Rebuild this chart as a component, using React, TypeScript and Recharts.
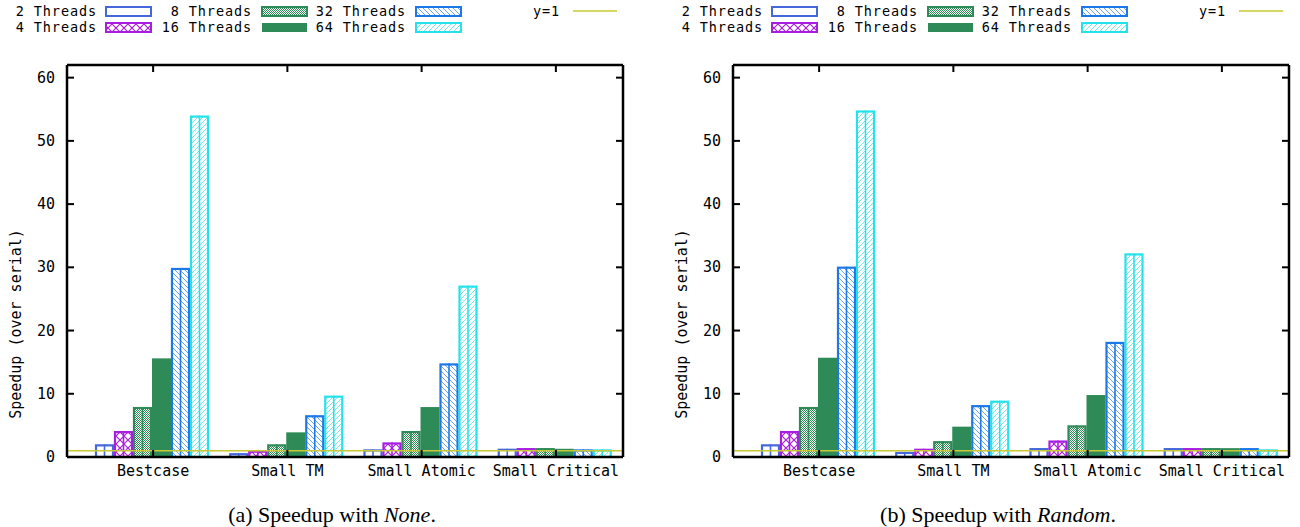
import React from 'react';
import { BarChart, Bar, XAxis, YAxis, ReferenceLine } from 'recharts';

const categories = ['Bestcase', 'Small TM', 'Small Atomic', 'Small Critical'];
const threadLabels = ['2 Threads', '4 Threads', '8 Threads', '16 Threads', '32 Threads', '64 Threads'];
const yTicks = [0, 10, 20, 30, 40, 50, 60];

// (a) None
const none2 = [2.0, 0.6, 1.2, 1.3];
const none4 = [4.1, 1.0, 2.3, 1.4];
const none8 = [7.9, 2.0, 4.1, 1.4];
const none16 = [15.6, 3.9, 7.9, 1.3];
const none32 = [29.9, 6.6, 14.8, 1.2];
const none64 = [54.0, 9.7, 27.1, 1.2];

// (b) Random
const random2 = [2.0, 0.8, 1.4, 1.4];
const random4 = [4.1, 1.3, 2.6, 1.4];
const random8 = [7.9, 2.5, 5.0, 1.4];
const random16 = [15.7, 4.8, 9.8, 1.4];
const random32 = [30.1, 8.2, 18.2, 1.4];
const random64 = [54.8, 8.9, 32.2, 1.2];

const seriesKeys = ['t2', 't4', 't8', 't16', 't32', 't64'];
const seriesColors = ['#4468dc', '#a81ee0', '#2e8b57', '#2e8b57', '#1c78e8', '#24e2ea'];
const seriesPatterns = ['none', 'cross', 'dots', 'solid', 'back', 'fwd'];
const refColor = '#c8c832';

const MONO = '"DejaVu Sans Mono", monospace';

const buildRows = (cols: number[][]) =>
    categories.map((name, i) => {
        const row: any = { name };
        seriesKeys.forEach((k, s) => { row[k] = cols[s][i]; });
        return row;
    });

const noneRows = buildRows([none2, none4, none8, none16, none32, none64]);
const randomRows = buildRows([random2, random4, random8, random16, random32, random64]);

const fillFor = (pattern: string, color: string) => {
    if (pattern === 'solid') return color;
    if (pattern === 'none') return '#ffffff';
    return `url(#pat-${pattern})`;
};

const PatternBar = (props: any) => {
    const { x, y, width, height, color, pattern } = props;
    if (!height || height <= 0) return null;
    if (pattern === 'solid') {
        return <rect x={x} y={y} width={width} height={height} fill={color} />;
    }
    return (
        <g>
            <rect x={x + 1} y={y + 1} width={width - 2} height={height - 1} fill={fillFor(pattern, color)} stroke={color} strokeWidth={2.2} />
            <line x1={x + width / 2} x2={x + width / 2} y1={y} y2={y + height} stroke={color} strokeWidth={1.6} />
        </g>
    );
};

const LeftTick = ({ x, y, payload }: any) => (
    <g>
        <text x={x} y={y} dy={5} textAnchor="end" fontFamily={MONO} fontSize={15} fill="#000">{payload.value}</text>
        <line x1={x + 12} x2={x + 19} y1={y} y2={y} stroke="#000" strokeWidth={2} />
    </g>
);

const RightTick = ({ x, y }: any) => (
    <line x1={x - 7} x2={x} y1={y} y2={y} stroke="#000" strokeWidth={2} />
);

const TopTick = ({ x, y }: any) => (
    <line x1={x} x2={x} y1={y} y2={y + 7} stroke="#000" strokeWidth={2} />
);

const BottomTick = ({ x, y, payload }: any) => (
    <g>
        <line x1={x} x2={x} y1={y - 8} y2={y - 15} stroke="#000" strokeWidth={2} />
        <text x={x} y={y} dy={11} textAnchor="middle" fontFamily={MONO} fontSize={15} fill="#000">{payload.value}</text>
    </g>
);

const PatternDefs = () => (
    <svg width={0} height={0} style={{ position: 'absolute' }}>
        <defs>
            <pattern id="pat-cross" patternUnits="userSpaceOnUse" width={8} height={8}>
                <rect width={8} height={8} fill="#fff" />
                <path d="M0,0 L8,8 M8,0 L0,8" stroke="#a81ee0" strokeWidth={1.2} />
            </pattern>
            <pattern id="pat-dots" patternUnits="userSpaceOnUse" width={2} height={2}>
                <rect width={2} height={2} fill="#fff" />
                <rect width={1} height={1} fill="#2e8b57" />
                <rect x={1} y={1} width={1} height={1} fill="#2e8b57" />
            </pattern>
            <pattern id="pat-back" patternUnits="userSpaceOnUse" width={5} height={5}>
                <rect width={5} height={5} fill="#fff" />
                <path d="M0,0 L5,5 M-1,4 L1,6 M4,-1 L6,1" stroke="#6ea4ee" strokeWidth={1} />
            </pattern>
            <pattern id="pat-fwd" patternUnits="userSpaceOnUse" width={5} height={5}>
                <rect width={5} height={5} fill="#fff" />
                <path d="M0,5 L5,0 M-1,1 L1,-1 M4,6 L6,4" stroke="#7ee8ee" strokeWidth={1} />
            </pattern>
        </defs>
    </svg>
);

const LegendBox = () => {
    const cols = [97, 252, 406];
    const swatchX = [106, 262, 416];
    const rowsY = [11, 27];
    const textStyle = { fontFamily: MONO, fontSize: 13.5, letterSpacing: 0.9 };
    return (
        <svg width={650} height={40} style={{ position: 'absolute', left: 0, top: 0 }}>
            {threadLabels.map((label, i) => {
                const col = Math.floor(i / 2);
                const row = i % 2;
                const cy = rowsY[row];
                const color = seriesColors[i];
                const pattern = seriesPatterns[i];
                return (
                    <g key={label}>
                        <text x={cols[col]} y={cy + 5} textAnchor="end" style={textStyle} fill="#000">{label}</text>
                        <rect x={swatchX[col]} y={cy - 4} width={45} height={9} fill={fillFor(pattern, color)}
                            stroke={pattern === 'solid' ? 'none' : color} strokeWidth={2} />
                    </g>
                );
            })}
            <text x={560} y={16} textAnchor="end" style={textStyle} fill="#000">y=1</text>
            <line x1={573} x2={617} y1={11} y2={11} stroke={refColor} strokeWidth={1.5} />
        </svg>
    );
};

const SpeedupPanel = ({ rows, caption, left }: { rows: any[]; caption: React.ReactNode; left: number }) => (
    <div style={{ position: 'absolute', left, top: 0, width: 650, height: 527 }}>
        <LegendBox />
        <BarChart width={650} height={480} data={rows} margin={{ top: 64, right: 26, bottom: 0, left: 0 }}
            barCategoryGap={9} barGap={0} style={{ position: 'absolute', left: 0, top: 0 }}>
            <XAxis dataKey="name" height={23} padding={{ left: 19, right: 0 }} tickSize={0} tickMargin={8}
                tick={<BottomTick />} tickLine={false} axisLine={{ stroke: '#000', strokeWidth: 2.5 }} interval={0} />
            <XAxis xAxisId="top" orientation="top" dataKey="name" height={1} padding={{ left: 19, right: 0 }} tickSize={0}
                tickMargin={0} tick={<TopTick />} tickLine={false} axisLine={{ stroke: '#000', strokeWidth: 2.5 }} interval={0} />
            <YAxis width={67} domain={[0, 62]} ticks={yTicks} tickSize={0} tickMargin={12} tick={<LeftTick />}
                tickLine={false} axisLine={{ stroke: '#000', strokeWidth: 2.5 }} allowDataOverflow
                label={{
                    content: () => (
                        <text x={21} y={324} transform="rotate(-90 21 324)" textAnchor="middle" fontFamily={MONO} fontSize={15} fill="#000">
                            Speedup (over serial)
                        </text>
                    )
                }} />
            <YAxis yAxisId="right" orientation="right" width={1} domain={[0, 62]} ticks={yTicks} tickSize={0}
                tickMargin={0} tick={<RightTick />} tickLine={false} axisLine={{ stroke: '#000', strokeWidth: 2.5 }} allowDataOverflow />
            {seriesKeys.map((k, i) => (
                <Bar key={k} dataKey={k} name={threadLabels[i]} isAnimationActive={false}
                    shape={(p: any) => <PatternBar {...p} color={seriesColors[i]} pattern={seriesPatterns[i]} />} />
            ))}
            <ReferenceLine y={1} stroke={refColor} strokeWidth={1.5} ifOverflow="extendDomain" />
        </BarChart>
        <div style={{ position: 'absolute', left: 0, top: 503, width: 664, textAlign: 'center', fontFamily: '"Liberation Serif", serif', fontSize: 22, lineHeight: '24px' }}>
            {caption}
        </div>
    </div>
);

export default function App() {
    return (
        <div style={{ position: 'absolute', left: 0, top: 0, width: 1300, height: 527, background: '#fff' }}>
            <PatternDefs />
            <SpeedupPanel rows={noneRows} left={0} caption={<>(a) Speedup with <i>None</i>.</>} />
            <SpeedupPanel rows={randomRows} left={666} caption={<>(b) Speedup with <i>Random</i>.</>} />
        </div>
    );
}
